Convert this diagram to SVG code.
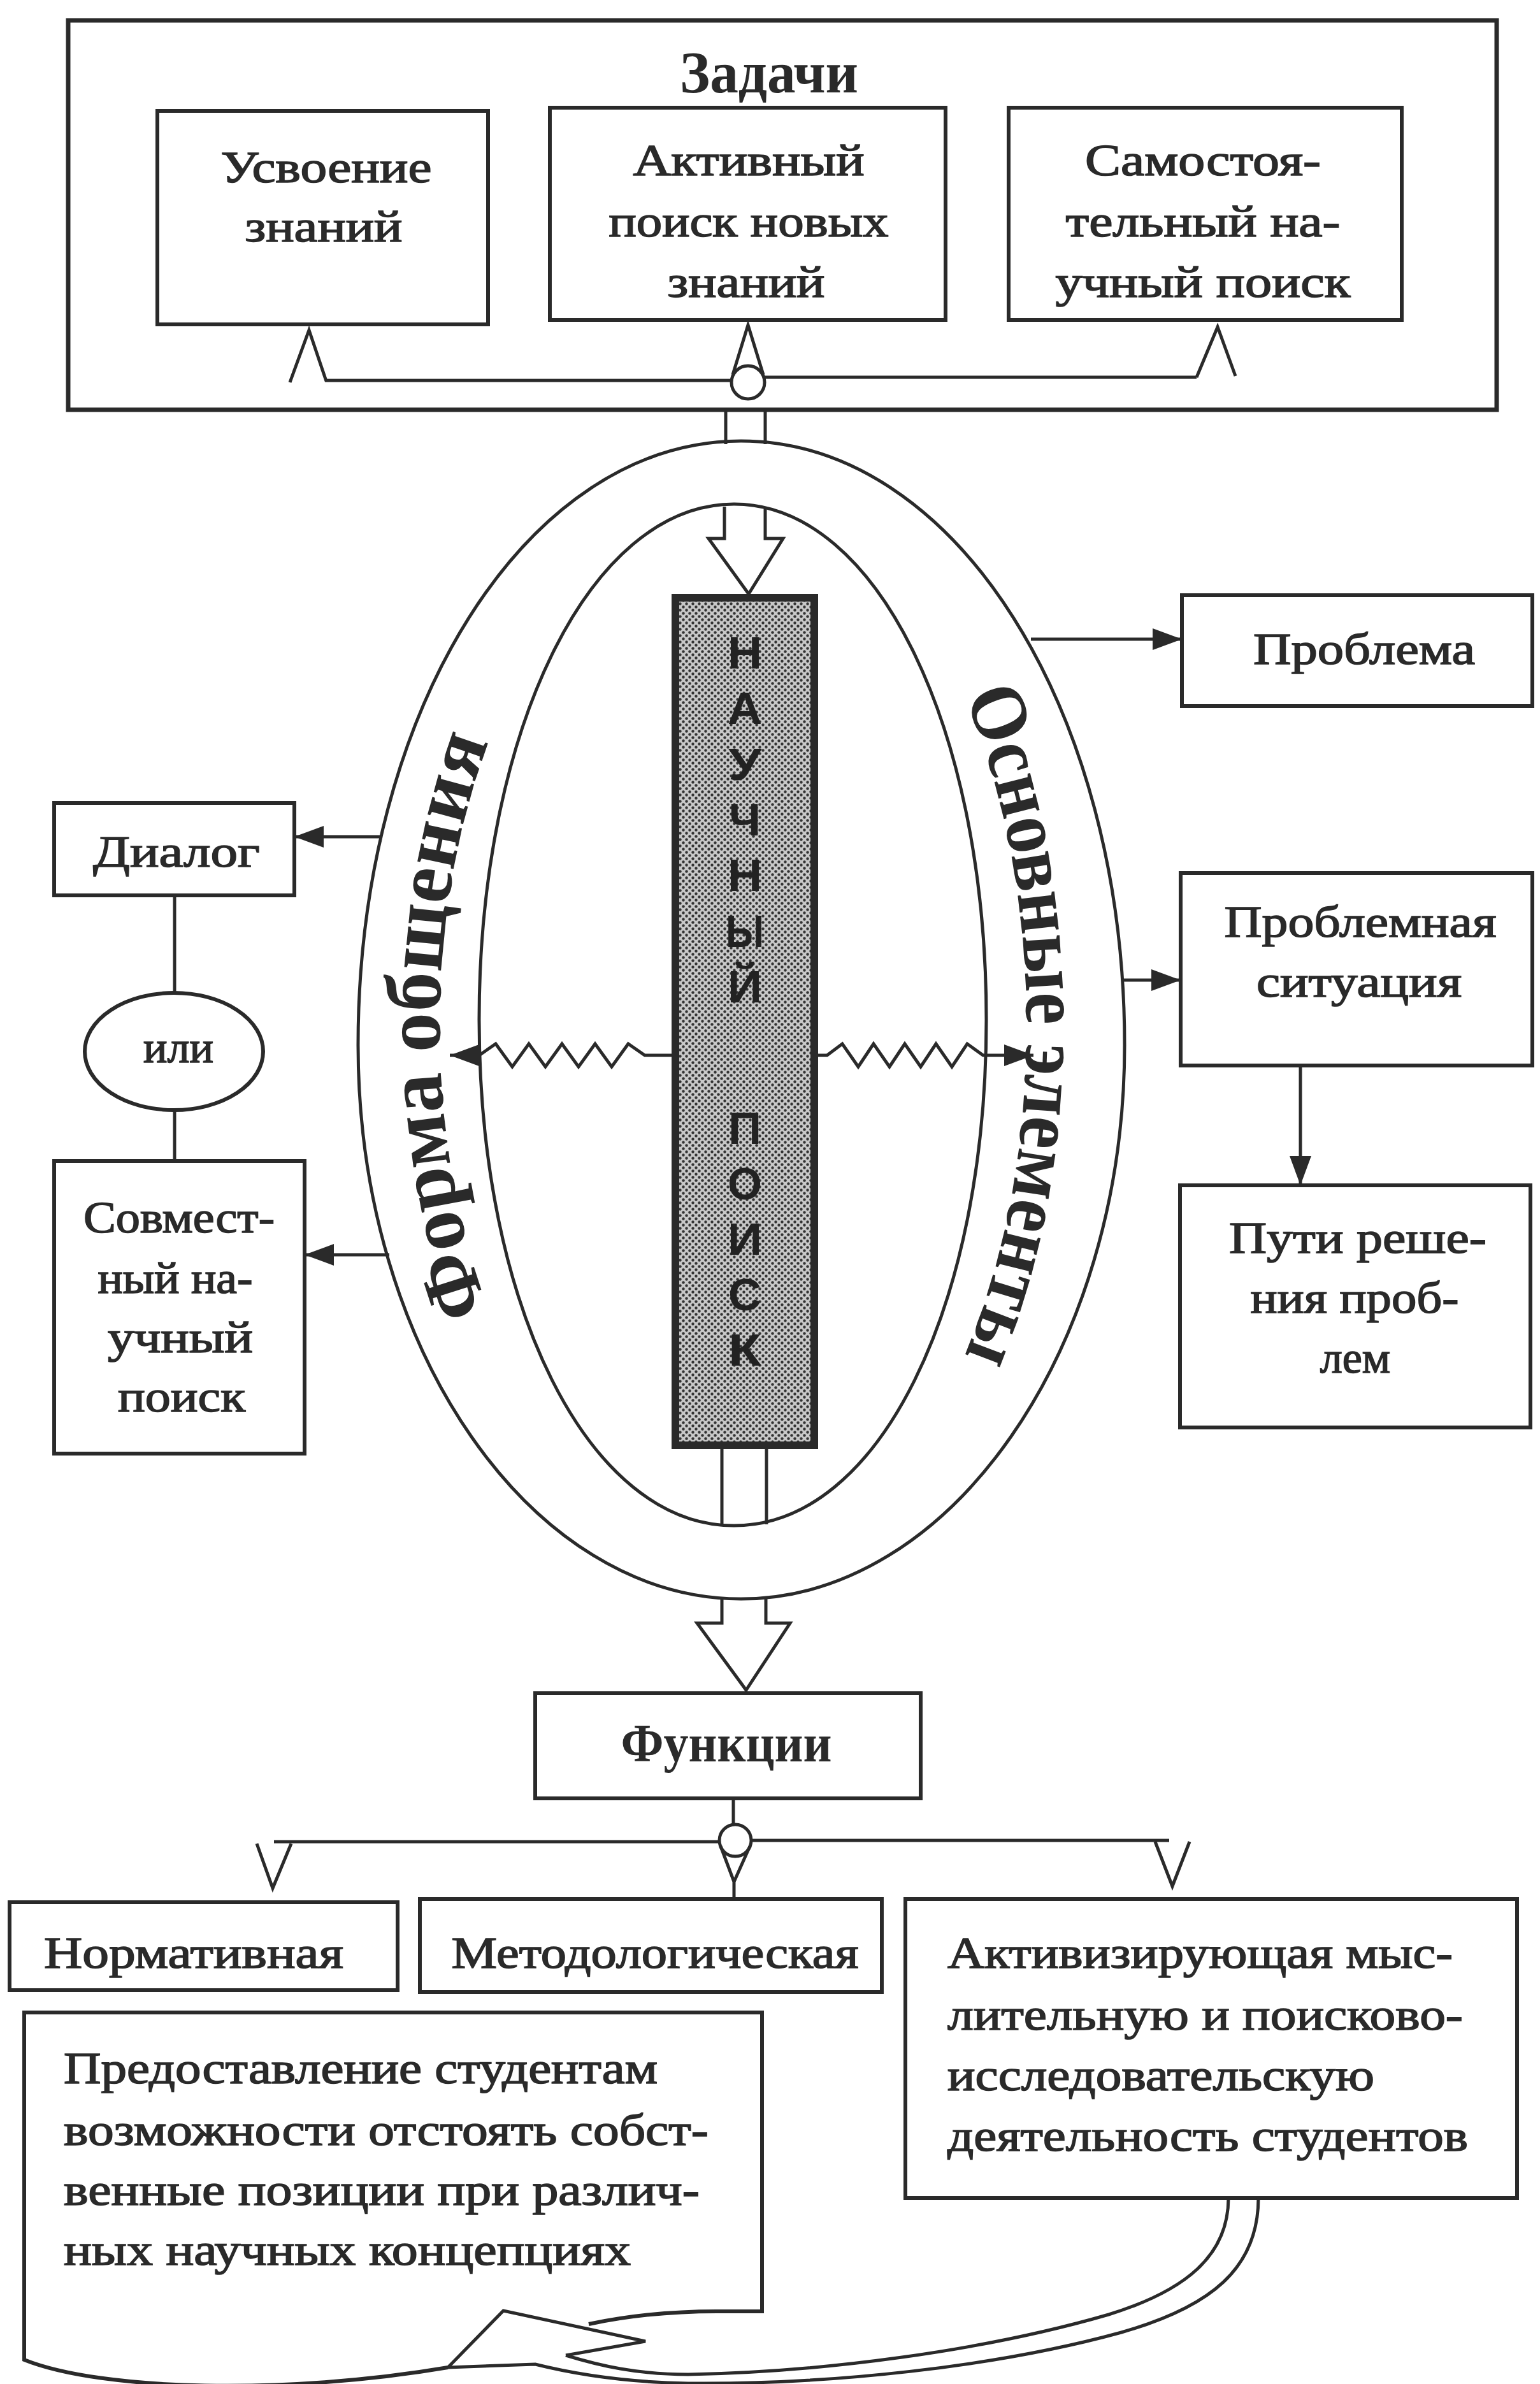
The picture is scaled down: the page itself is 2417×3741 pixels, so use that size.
<svg xmlns="http://www.w3.org/2000/svg" width="2417" height="3741" viewBox="0 0 2417 3741">
<defs>
<pattern id="dots" width="10" height="10" patternUnits="userSpaceOnUse">
<rect width="10" height="10" fill="#c8c8c8"/>
<circle cx="2.5" cy="2.5" r="2.2" fill="#333"/>
<circle cx="7.5" cy="7.5" r="2.2" fill="#333"/>
</pattern>
<marker id="fa" viewBox="0 0 10 10" refX="10" refY="5" markerUnits="userSpaceOnUse" markerWidth="46" markerHeight="34" orient="auto" preserveAspectRatio="none"><path d="M0,0 L10,5 L0,10 Z" fill="#2a2a2a"/></marker>
<path id="lp" d="M 785 2100 A 468 812 0 0 1 785 1120"/>
<path id="rp" d="M 1498 1060 A 427 812 0 0 1 1498 2160"/>
</defs>
<style>
.box{fill:none;stroke:#2a2a2a;stroke-width:6}
.ln{fill:none;stroke:#2a2a2a;stroke-width:5}
.t{font-family:"Liberation Serif","Times New Roman",serif;font-size:70px;fill:#2a2a2a;stroke:#2a2a2a;stroke-width:1.6;text-anchor:middle}
.ts{font-family:"Liberation Serif","Times New Roman",serif;font-size:70px;fill:#2a2a2a;stroke:#2a2a2a;stroke-width:1.6;text-anchor:start}
.b{font-family:"Liberation Serif","Times New Roman",serif;font-weight:bold;fill:#2a2a2a;text-anchor:middle}
.v{font-family:"Liberation Sans",Arial,sans-serif;font-weight:bold;font-size:70px;fill:#222;text-anchor:middle}
</style>
<rect width="2417" height="3741" fill="#ffffff"/>

<g id="zadachi">
<rect class="box" x="107" y="32" width="2242" height="611" style="stroke-width:7"/>
<text class="b" x="1207" y="145" font-size="94" textLength="280" lengthAdjust="spacingAndGlyphs">Задачи</text>
</g>
<g id="usvoenie">
<rect class="box" x="247" y="174" width="519" height="335"/>
<text class="t" x="512" y="286" textLength="331" lengthAdjust="spacingAndGlyphs">Усвоение</text>
<text class="t" x="508" y="379" textLength="247" lengthAdjust="spacingAndGlyphs">знаний</text>
</g>
<g id="aktivny-poisk">
<rect class="box" x="863" y="169" width="621" height="333"/>
<text class="t" x="1175" y="275" textLength="363" lengthAdjust="spacingAndGlyphs">Активный</text>
<text class="t" x="1175" y="371" textLength="439" lengthAdjust="spacingAndGlyphs">поиск новых</text>
<text class="t" x="1171" y="466" textLength="247" lengthAdjust="spacingAndGlyphs">знаний</text>
</g>
<g id="samostoyatelny">
<rect class="box" x="1583" y="169" width="617" height="333"/>
<text class="t" x="1888" y="275" textLength="370" lengthAdjust="spacingAndGlyphs">Самостоя-</text>
<text class="t" x="1888" y="371" textLength="431" lengthAdjust="spacingAndGlyphs">тельный на-</text>
<text class="t" x="1888" y="466" textLength="463" lengthAdjust="spacingAndGlyphs">учный поиск</text>
</g>

<g id="forma-obscheniya">
<path class="ln" d="M 1163 692 C 1500 692 1765 1115 1765 1640 C 1765 2120 1490 2509 1163 2509 C 836 2509 562 2120 562 1640 C 562 1115 826 692 1163 692 Z"/>
<path class="ln" d="M 1152 791 C 1380 791 1548 1150 1548 1600 C 1548 2050 1380 2394 1152 2394 C 924 2394 752 2050 752 1600 C 752 1150 924 791 1152 791 Z"/>
<text class="b" font-size="126" textLength="910" lengthAdjust="spacingAndGlyphs"><textPath href="#lp" startOffset="50%">Форма общения</textPath></text>
<text class="b" font-size="126" textLength="1060" lengthAdjust="spacingAndGlyphs"><textPath href="#rp" startOffset="50%">Основные элементы</textPath></text>
</g>

<g id="nauchny-poisk">
<rect x="1060" y="938" width="218" height="1330" fill="url(#dots)" stroke="#2a2a2a" stroke-width="12"/>
<text class="v" x="1169" y="1049" textLength="54" lengthAdjust="spacingAndGlyphs">Н</text>
<text class="v" x="1169" y="1136" textLength="54" lengthAdjust="spacingAndGlyphs">А</text>
<text class="v" x="1169" y="1224" textLength="52" lengthAdjust="spacingAndGlyphs">У</text>
<text class="v" x="1169" y="1311" textLength="50" lengthAdjust="spacingAndGlyphs">Ч</text>
<text class="v" x="1169" y="1398" textLength="54" lengthAdjust="spacingAndGlyphs">Н</text>
<text class="v" x="1169" y="1486" textLength="60" lengthAdjust="spacingAndGlyphs">Ы</text>
<text class="v" x="1169" y="1573" textLength="54" lengthAdjust="spacingAndGlyphs">Й</text>
<text class="v" x="1169" y="1795" textLength="52" lengthAdjust="spacingAndGlyphs">П</text>
<text class="v" x="1169" y="1882" textLength="54" lengthAdjust="spacingAndGlyphs">О</text>
<text class="v" x="1169" y="1969" textLength="54" lengthAdjust="spacingAndGlyphs">И</text>
<text class="v" x="1169" y="2056" textLength="52" lengthAdjust="spacingAndGlyphs">С</text>
<text class="v" x="1169" y="2143" textLength="52" lengthAdjust="spacingAndGlyphs">К</text>
</g>

<g id="problema">
<rect class="box" x="1855" y="934" width="550" height="174"/>
<text class="t" x="2141" y="1042" textLength="348" lengthAdjust="spacingAndGlyphs">Проблема</text>
</g>
<g id="problemnaya-situaciya">
<rect class="box" x="1853" y="1370" width="552" height="302"/>
<text class="t" x="2135" y="1470" textLength="427" lengthAdjust="spacingAndGlyphs">Проблемная</text>
<text class="t" x="2133" y="1564" textLength="322" lengthAdjust="spacingAndGlyphs">ситуация</text>
</g>
<g id="puti-resheniya">
<rect class="box" x="1852" y="1860" width="550" height="380"/>
<text class="t" x="2131" y="1966" textLength="404" lengthAdjust="spacingAndGlyphs">Пути реше-</text>
<text class="t" x="2126" y="2060" textLength="327" lengthAdjust="spacingAndGlyphs">ния проб-</text>
<text class="t" x="2127" y="2154">лем</text>
</g>

<g id="dialog">
<rect class="box" x="85" y="1260" width="377" height="145"/>
<text class="t" x="277" y="1360" textLength="262" lengthAdjust="spacingAndGlyphs">Диалог</text>
</g>
<g id="ili">
<ellipse class="box" cx="273" cy="1650" rx="140" ry="92"/>
<text class="t" x="280" y="1667">или</text>
</g>
<g id="sovmestny-poisk">
<rect class="box" x="85" y="1822" width="393" height="459"/>
<text class="t" x="281" y="1934" textLength="300" lengthAdjust="spacingAndGlyphs">Совмест-</text>
<text class="t" x="275" y="2029" textLength="243" lengthAdjust="spacingAndGlyphs">ный на-</text>
<text class="t" x="283" y="2122" textLength="228" lengthAdjust="spacingAndGlyphs">учный</text>
<text class="t" x="285" y="2215" textLength="200" lengthAdjust="spacingAndGlyphs">поиск</text>
</g>

<g id="funkcii">
<rect class="box" x="840" y="2657" width="605" height="165"/>
<text class="b" x="1140" y="2764" font-size="84" textLength="331" lengthAdjust="spacingAndGlyphs">Функции</text>
</g>
<g id="normativnaya">
<rect class="box" x="15" y="2985" width="609" height="138"/>
<text class="t" x="304" y="3088" textLength="470" lengthAdjust="spacingAndGlyphs">Нормативная</text>
</g>
<g id="metodologicheskaya">
<rect class="box" x="659" y="2980" width="725" height="146"/>
<text class="t" x="1028" y="3088" textLength="639" lengthAdjust="spacingAndGlyphs">Методологическая</text>
</g>
<g id="aktiviziruyushchaya">
<rect class="box" x="1421" y="2980" width="960" height="469"/>
<text class="ts" x="1487" y="3088" textLength="793" lengthAdjust="spacingAndGlyphs">Активизирующая  мыс-</text>
<text class="ts" x="1487" y="3185" textLength="809" lengthAdjust="spacingAndGlyphs">лительную и поисково-</text>
<text class="ts" x="1487" y="3280" textLength="670" lengthAdjust="spacingAndGlyphs">исследовательскую</text>
<text class="ts" x="1487" y="3375" textLength="817" lengthAdjust="spacingAndGlyphs">деятельность студентов</text>
</g>
<g id="predostavlenie">
<path class="box" d="M 924 3647 C 990 3633 1060 3627 1125 3627 L 1196 3627 L 1196 3158 L 38 3158 L 38 3703 C 160 3752 450 3758 703 3715"/>
<text class="ts" x="100" y="3269" textLength="932" lengthAdjust="spacingAndGlyphs">Предоставление студентам</text>
<text class="ts" x="100" y="3366" textLength="1012" lengthAdjust="spacingAndGlyphs">возможности отстоять собст-</text>
<text class="ts" x="100" y="3460" textLength="998" lengthAdjust="spacingAndGlyphs">венные позиции при различ-</text>
<text class="ts" x="100" y="3554" textLength="890" lengthAdjust="spacingAndGlyphs">ных научных концепциях</text>
</g>

<g id="connectors">
<circle class="ln" cx="1174" cy="600" r="26"/>
<path class="ln" d="M 1148 597 L 510 597 M 455 600 L 485 518 L 512 598"/>
<path class="ln" d="M 1200 592 L 1878 592 M 1878 592 L 1911 513 L 1939 590"/>
<path class="ln" d="M 1150 588 L 1174 510 L 1198 588"/>
<path class="ln" d="M 1139 643 L 1139 697 M 1201 643 L 1201 697"/>
<path class="ln" d="M 1137 795 L 1137 845 L 1112 845 L 1175 932 L 1229 845 L 1201 845 L 1201 795"/>
<path class="ln" d="M 1133 2268 L 1133 2392 M 1203 2268 L 1203 2392"/>
<path class="ln" d="M 1133 2508 L 1133 2547 L 1094 2547 L 1171 2652 L 1240 2547 L 1202 2547 L 1202 2508"/>
<path class="ln" marker-end="url(#fa)" d="M 1058 1656 L 1012 1656 L 986 1638 L 960 1674 L 934 1638 L 908 1674 L 882 1638 L 856 1674 L 830 1638 L 804 1674 L 778 1638 L 752 1656 L 706 1656"/>
<path class="ln" marker-end="url(#fa)" d="M 1280 1656 L 1298 1656 L 1322 1638 L 1347 1674 L 1371 1638 L 1396 1674 L 1420 1638 L 1445 1674 L 1469 1638 L 1494 1674 L 1518 1638 L 1543 1656 L 1622 1656"/>
<path class="ln" marker-end="url(#fa)" d="M 1618 1003 L 1855 1003"/>
<path class="ln" marker-end="url(#fa)" d="M 1762 1538 L 1853 1538"/>
<path class="ln" marker-end="url(#fa)" d="M 2041 1672 L 2041 1860"/>
<path class="ln" marker-end="url(#fa)" d="M 596 1313 L 462 1313"/>
<path class="ln" marker-end="url(#fa)" d="M 611 1969 L 478 1969"/>
<path class="ln" d="M 274 1405 L 274 1558 M 274 1742 L 274 1822"/>
<path class="ln" d="M 1151 2822 L 1151 2863"/>
<circle class="ln" cx="1154" cy="2888" r="25"/>
<path class="ln" d="M 430 2890 L 1129 2890 M 1179 2888 L 1835 2888"/>
<path class="ln" d="M 403 2893 L 428 2963 L 457 2893"/>
<path class="ln" d="M 1813 2890 L 1840 2960 L 1867 2890"/>
<path class="ln" d="M 1131 2897 L 1152 2953 L 1177 2897 M 1152 2953 L 1152 2980"/>
<path class="ln" d="M 703 3715 L 790 3626 L 1013 3674 L 888 3696"/>
<path class="ln" d="M 888 3696 C 940 3712 1000 3726 1080 3726 C 1290 3722 1540 3690 1740 3632 C 1860 3595 1928 3540 1928 3449"/>
<path class="ln" d="M 1975 3449 C 1975 3560 1900 3620 1760 3660 C 1560 3715 1300 3742 1080 3740 C 980 3738 900 3725 840 3710 L 703 3715"/>
</g>
</svg>
